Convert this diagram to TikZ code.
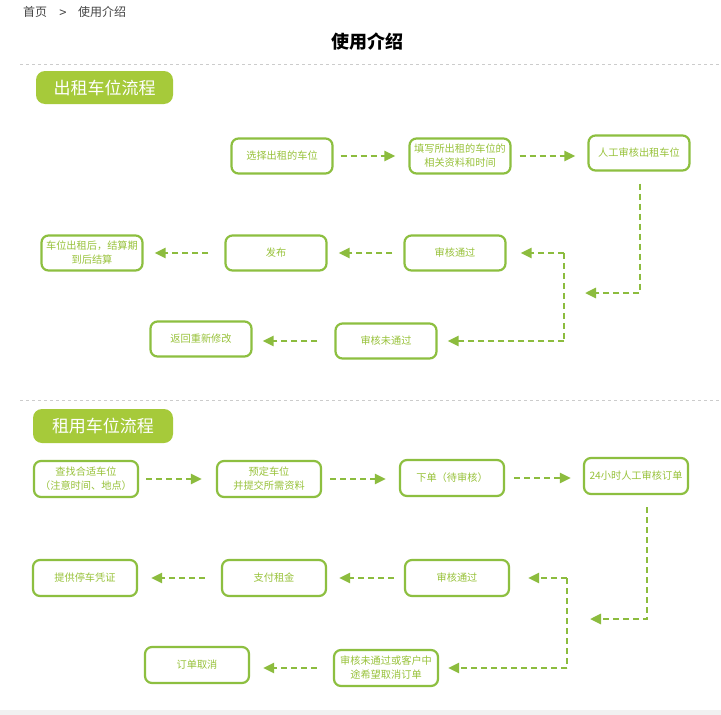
\documentclass[tikz,border=0pt]{standalone}
\usepackage{fontspec}
\newfontfamily\cjk{Noto Sans CJK SC}
\usetikzlibrary{arrows.meta}

\definecolor{boxline}{HTML}{8DBF40}
\definecolor{boxtext}{HTML}{98C23A}
\definecolor{flowline}{HTML}{8CBC3E}
\definecolor{banner}{HTML}{A6CA3A}
\definecolor{crumb}{HTML}{444444}
\definecolor{rule}{HTML}{CCCCCC}
\definecolor{footer}{HTML}{F1F1F1}

\tikzset{
  stepbox/.style={draw=boxline, line width=2.2pt, rounded corners=7pt, fill=white,
    minimum width=101pt, minimum height=35pt, inner sep=0pt, align=center,
    text=boxtext, font=\cjk\fontsize{10.2}{14}\selectfont},
  widebox/.style={stepbox, minimum width=104pt, minimum height=36pt},
  bannerbox/.style={fill=banner, rounded corners=9pt, inner sep=0pt,
    text=white, font=\cjk\fontsize{17}{20}\selectfont},
  flow/.style={draw=flowline, line width=2.6pt, dash pattern=on 6pt off 4pt,
    -{Triangle[length=11pt,width=10pt]}},
  flowplain/.style={draw=flowline, line width=2.6pt, dash pattern=on 6pt off 4pt},
  divider/.style={draw=rule, line width=0.8pt, dash pattern=on 3pt off 3pt},
}

\begin{document}
\begin{tikzpicture}[x=1pt, y=-1pt]
\useasboundingbox (0,0) rectangle (721,715);
\fill[white] (0,0) rectangle (721,715);
\fill[footer] (0,710) rectangle (721,715);

% breadcrumb and page title
\node[anchor=west, text=crumb, font=\cjk\fontsize{12}{14}\selectfont, inner sep=0pt] (home) at (23,12) {首页};
\node[text=crumb, font=\cjk\fontsize{13}{14}\selectfont, inner sep=0pt] (sep) at (63,14) {>};
\node[anchor=west, text=crumb, font=\cjk\fontsize{12}{14}\selectfont, inner sep=0pt] (here) at (78,12) {使用介绍};
\node[font=\cjk\bfseries\fontsize{18}{20}\selectfont, inner sep=0pt] (title) at (367,42) {使用介绍};

% ---------------- letting out a parking space ----------------
\draw[divider] (20,64) -- (721,64);
\node[bannerbox, minimum width=137pt, minimum height=33pt] (b1) at (104.5,87.5) {出租车位流程};

\node[stepbox] (r1) at (282,156) {选择出租的车位};
\node[stepbox] (r2) at (460,156) {填写所出租的车位的\\相关资料和时间};
\node[stepbox] (r3) at (639,153) {人工审核出租车位};
\node[stepbox] (r4) at (455,253) {审核通过};
\node[stepbox] (r5) at (276,253) {发布};
\node[stepbox] (r6) at (92,253) {车位出租后，结算期\\到后结算};
\node[stepbox] (r7) at (386,341) {审核未通过};
\node[stepbox] (r8) at (201,339) {返回重新修改};

\coordinate (r3turn) at (640,293);
\coordinate (r3end) at (585,293);
\coordinate (r3ctop) at (564,253);
\coordinate (r3cbot) at (564,341);

\draw[flow, shorten <=7pt, shorten >=13pt] (r1.east) -- (r2.west);
\draw[flow, shorten <=8pt, shorten >=12pt] (r2.east) -- (r3.west |- r2.east);
\draw[flow, shorten <=12pt] (r3.south -| r3turn) -- (r3turn) -- (r3end);
\draw[flowplain] (r3ctop) -- (r3cbot);
\draw[flow, shorten >=14pt] (r3ctop) -- (r4.east);
\draw[flow, shorten >=10pt] (r3cbot) -- (r7.east);
\draw[flow, shorten <=11pt, shorten >=11pt] (r4.west) -- (r5.east);
\draw[flow, shorten <=16pt, shorten >=11pt] (r5.west) -- (r6.east);
\draw[flow, shorten <=17pt, shorten >=10pt] (r7.west) -- (r8.east |- r7.west);

% ---------------- renting a parking space ----------------
\draw[divider] (20,400) -- (721,400);
\node[bannerbox, minimum width=140pt, minimum height=34pt] (b2) at (103,426) {租用车位流程};

\node[widebox] (u1) at (86,479) {查找合适车位\\（注意时间、地点）};
\node[widebox] (u2) at (269,479) {预定车位\\并提交所需资料};
\node[widebox] (u3) at (452,478) {下单（待审核）};
\node[widebox] (u4) at (636,476) {24小时人工审核订单};
\node[widebox] (u5) at (457,578) {审核通过};
\node[widebox] (u6) at (274,578) {支付租金};
\node[widebox] (u7) at (85,578) {提供停车凭证};
\node[widebox] (u8) at (386,668) {审核未通过或客户中\\途希望取消订单};
\node[widebox] (u9) at (197,665) {订单取消};

\coordinate (u4turn) at (647,619);
\coordinate (u4end) at (590,619);
\coordinate (u4ctop) at (567,578);
\coordinate (u4cbot) at (567,668);

\draw[flow, shorten <=7pt, shorten >=14pt] (u1.east) -- (u2.west);
\draw[flow, shorten <=8pt, shorten >=13pt] (u2.east) -- (u3.west |- u2.east);
\draw[flow, shorten <=9pt, shorten >=12pt] (u3.east) -- (u4.west |- u3.east);
\draw[flow, shorten <=12pt] (u4.south -| u4turn) -- (u4turn) -- (u4end);
\draw[flowplain] (u4ctop) -- (u4cbot);
\draw[flow, shorten >=18pt] (u4ctop) -- (u5.east);
\draw[flow, shorten >=9pt] (u4cbot) -- (u8.east);
\draw[flow, shorten <=10pt, shorten >=12pt] (u5.west) -- (u6.east);
\draw[flow, shorten <=16pt, shorten >=13pt] (u6.west) -- (u7.east);
\draw[flow, shorten <=16pt, shorten >=13pt] (u8.west) -- (u9.east |- u8.west);
\end{tikzpicture}
\end{document}
